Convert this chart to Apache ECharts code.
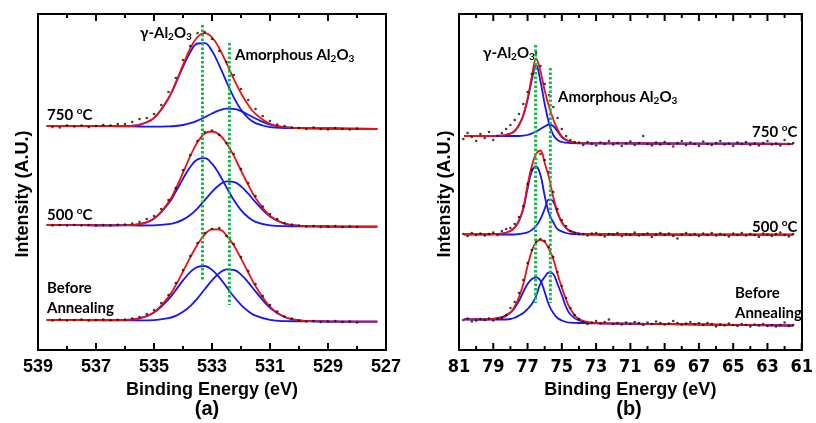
<!DOCTYPE html>
<html>
<head>
<meta charset="utf-8">
<script src="https://cdn.jsdelivr.net/npm/echarts@6/dist/echarts.min.js"></script>
<style>
  html, body { margin: 0; padding: 0; background: #fff; }
  #chart { width: 816px; height: 423px; }
</style>
</head>
<body>
<div id="chart"></div>
<script>
// ---------- panel (a): O 1s ----------
// every tick position, left to right; labelled ticks are every second one
const tickValsA = [539, 538, 537, 536, 535, 534, 533, 532, 531, 530, 529, 528, 527]

// energies where the fitted curves were read
const fitE_a = [538.7, 537.5, 536.5, 536, 535.5, 535, 534.5, 534.25, 534, 533.75, 533.5, 533.25,
  533, 532.75, 532.5, 532.25, 532, 531.75, 531.5, 531, 530.5, 530, 529, 527.3]

// 750 C
const a750Gamma = [224, 224, 223.8, 223.8, 225.3, 232.1, 251.6, 266.7, 283.2, 297.8, 306.5, 306.9,
  298.9, 284.7, 268.1, 252.6, 240.3, 231.9, 226.9, 222.9, 222, 221.8, 221.5, 221]
const a750Amor = [224, 224, 223.8, 223.6, 223.5, 223.4, 223.6, 224.0, 225.0, 226.8, 229.4, 232.8,
  236.5, 239.6, 241.4, 241.1, 238.9, 235.3, 231.5, 225.4, 222.8, 221.9, 221.5, 221]
const a750Fit = [224, 224, 223.8, 223.8, 225.3, 232.2, 252.0, 267.6, 285.2, 301.6, 313.0, 316.9,
  312.7, 301.7, 286.9, 271.2, 256.8, 244.9, 236.1, 226.2, 222.8, 221.9, 221.5, 221]
// 500 C
const a500Gamma = [125.0, 124.8, 124.7, 124.8, 125.9, 131.3, 146.5, 158.2, 171.3, 183.0, 190.6, 191.8,
  186.3, 175.7, 162.6, 150.1, 139.8, 132.7, 128.2, 124.6, 123.8, 123.7, 123.5, 123.3]
const a500Amor = [125.0, 124.8, 124.7, 124.6, 124.5, 124.6, 125.8, 127.4, 130.4, 135.0, 141.7, 149.8,
  158.1, 165.0, 168.6, 168.2, 163.6, 156.3, 147.8, 133.5, 126.4, 124.2, 123.5, 123.3]
const a500Fit = [125.0, 124.8, 124.7, 124.8, 125.9, 131.5, 147.9, 161.3, 177.4, 193.8, 208.1, 216.5,
  218.5, 215.5, 206.8, 194.3, 179.5, 165.1, 152.1, 134.3, 126.5, 124.2, 123.5, 123.3]
// before annealing
const aBAGamma = [30.0, 29.8, 29.8, 30.0, 31.6, 37.4, 50.7, 59.9, 69.6, 77.9, 83.1, 84.0,
  80.1, 72.7, 63.1, 53.5, 45.1, 38.7, 34.3, 30.1, 28.9, 28.7, 28.5, 28.3]
const aBAAmor = [30.0, 29.8, 29.7, 29.6, 29.6, 29.9, 31.9, 34.2, 38.2, 43.9, 51.7, 60.7,
  69.6, 76.9, 80.6, 80.2, 75.4, 67.7, 58.6, 42.2, 33.0, 29.7, 28.5, 28.3]
const aBAFit = [30.0, 29.8, 29.8, 30.0, 31.7, 37.9, 53.2, 64.8, 78.5, 92.6, 105.6, 115.5,
  120.6, 120.5, 114.7, 104.7, 91.6, 77.5, 64.0, 43.5, 33.2, 29.7, 28.5, 28.3]

// measured points, 538.5 -> 528.0 eV every 0.25 eV
const dotStartA = 538.5, dotStepA = 0.25
const a750Dots = [223, 222.5, 224.5, 223.5, 224.5, 223, 224, 225, 224.5, 226, 226, 228, 231, 232, 236,
  245, 258, 272, 290, 304, 317, 318, 311, 299, 288, 275, 261, 250, 241, 234, 229, 225.5, 224, 222.5,
  222, 221, 222.5, 221, 220.5, 222, 221, 220.5, 221.5]
const a500Dots = [124.5, 125, 124.5, 125, 124.5, 125, 124.5, 125, 124.8, 125.3, 125.5, 126.5, 128, 131,
  134, 141, 150, 162, 180, 195, 209, 218, 219.5, 215, 207, 196, 181, 167, 154, 143.5, 136, 131, 127,
  125.5, 124.5, 123.5, 124, 123, 123.5, 124, 123, 123.5, 123]
const aBADots = [29.5, 30.5, 29.5, 30, 30.5, 29.5, 30, 30.5, 29.8, 30.3, 30.5, 31.5, 33, 36, 40, 47, 55,
  67, 80, 94, 107, 117, 121, 122, 114, 106, 93, 79, 66, 54, 45, 38.5, 33.5, 31.5, 29.5, 28.5, 29, 28,
  28.5, 29, 28, 28.5, 27.5]

// dotted guide lines: energy and vertical extent
const guideE_a = [533.33, 532.40]
const guideY_a = [[325, 70], [307, 45]]

// ---------- panel (b): Al 2p ----------
const tickValsB = [81, 80, 79, 78, 77, 76, 75, 74, 73, 72, 71, 70, 69, 68, 67, 66, 65, 64, 63, 62, 61]

const fitE_b = [80.7, 79.5, 78.5, 78, 77.75, 77.5, 77.25, 77, 76.75, 76.5, 76.25, 76, 75.75, 75.5,
  75.25, 75, 74.75, 74.5, 74, 73, 70, 65, 61.5]

const b750Gamma = [214, 214, 214.3, 216.5, 219, 225, 234.5, 250, 270, 285, 269, 246, 227, 215, 210,
  208, 207.3, 206.9, 206.7, 206.6, 206.5, 206.3, 206.2]
const b750Amor = [214, 214, 214, 214, 214, 214, 214.3, 215, 216.5, 218.5, 221, 223.5, 225.5, 224,
  218.5, 213, 210, 208.3, 206.9, 206.6, 206.5, 206.3, 206.2]
const b750Fit = [214, 214, 214.3, 216.5, 219, 225, 234.8, 251.5, 273.5, 291.5, 279, 259.5, 243.5,
  230.8, 220.8, 213.7, 210.3, 208.4, 206.9, 206.6, 206.5, 206.3, 206.2]

const b500Gamma = [115.7, 115.6, 116.4, 119, 122.4, 129.2, 140.8, 161.2, 178.7, 183.5, 175.3, 154.3,
  136.6, 127.7, 120.9, 118.6, 117, 116.2, 115.7, 115.5, 115.5, 115.4, 115.3]
const b500Amor = [115.7, 115.6, 115.5, 115.5, 115.5, 116, 116.6, 117.6, 120.1, 124, 130.8, 141.1,
  150.3, 148.5, 136.8, 127.9, 122.2, 119.1, 116.4, 115.6, 115.5, 115.4, 115.3]
const b500Fit = [115.7, 115.6, 116.4, 119, 122.4, 129.7, 142, 165, 184, 196, 199.5, 187, 172.5, 153,
  138, 127.5, 122, 118.5, 116.4, 115.6, 115.5, 115.4, 115.3]

const bBAGamma = [30.7, 30.5, 33, 37.5, 42, 49, 58, 66, 71, 72.7, 69.5, 58, 45, 37, 32, 29.5, 28,
  27.3, 27, 26.6, 26.2, 25.2, 24.5]
const bBAAmor = [30.7, 30.5, 30.4, 31, 32.3, 34.5, 37, 41, 46, 54, 66.5, 73, 77.5, 76, 66, 55, 43,
  35.5, 29.5, 26.8, 26.2, 25.2, 24.5]
const bBAFit = [30.7, 30.6, 32, 37.5, 43.5, 53, 66, 84, 99, 108, 110, 108, 101, 91, 76, 62.5, 50.5,
  41, 31, 27, 26.2, 25.2, 24.5]

// measured points, 80.75 -> 61.5 eV every 0.25 eV
const dotStartB = 80.75, dotStepB = 0.25
const b750Dots = [211, 217, 213, 209, 216, 212, 218, 210, 214, 217, 221, 225, 230, 236, 246, 258, 276,
  297, 284, 266, 255, 243, 232, 221, 214, 210, 208, 207.5,
  205, 208, 206, 204.5, 207.5, 206, 209, 205.5, 207, 204, 206.5, 208.5, 205, 207, 214, 206, 204.5,
  207.5, 205.5, 208, 206, 203.5, 207, 209, 205, 207.5, 206, 204, 208.5, 206, 205, 207, 209, 205.5,
  206.5, 204, 207.5, 206, 208, 205, 206.5, 204.5, 207, 209, 205.5, 206.5, 204.5, 210, 206, 207]
const b500Dots = [116, 114, 117, 115, 116.5, 114.5, 116, 117.5, 115, 119, 121, 122, 126, 133, 144, 166,
  180, 191, 196, 190, 178, 158, 141, 130, 124, 119, 117, 116,
  116, 114.5, 116.5, 117, 115, 113.5, 116, 115.5, 117, 114, 116, 115, 117.5, 114.5, 115.5, 116.5, 113,
  115.5, 117, 115, 116.5, 114, 111.5, 115.5, 117, 115, 116, 114, 116.5, 115, 117, 114.5, 116, 115,
  113.5, 116.5, 115, 117, 114.5, 116, 115, 113, 116.5, 115.5, 114, 116, 117.5, 115, 113.5, 116]
const bBADots = [30, 31.5, 28.5, 29.5, 31, 30, 31.5, 29.5, 31, 32, 35, 42, 48, 57, 70, 87, 100, 108,
  111, 109, 103, 93, 78, 64, 52, 42, 35, 31,
  28, 26, 27.5, 29, 26.5, 28, 30.5, 26, 27, 25.5, 27.5, 26, 28, 27, 25, 27.5, 26, 28.5, 27, 25.5,
  26.5, 29, 27, 25.5, 26.5, 28, 26, 27, 25, 27, 26, 23.5, 25.5, 24.5, 26.5, 25, 24, 26, 25, 23.5,
  25.5, 24.5, 26, 24, 25, 23.5, 25, 27.5, 24, 25]

const guideE_b = [76.53, 75.67]
const guideY_b = [[305, 47], [282, 47]]

// ---------- styles ----------
const BLUE = '#1515f5'
const RED = '#f01010'
const GREEN = '#16b84a'
const NAVY = '#1f2f6e'
const AXIS_FONT = "'Liberation Sans', Arial, sans-serif"
const NARROW_FONT = "'Liberation Sans Narrow', 'DejaVu Sans Condensed', sans-serif"
const LABEL_FONT = "Lato, 'Open Sans', sans-serif"
const FRAME = { show: true, lineStyle: { color: '#000', width: 2 } }
const Y_MAX = 336

const zip = (xs, ys) => xs.map((x, i) => [x, ys[i]])
const dotPts = (start, step, ys) => ys.map((y, i) => [+(start - i * step).toFixed(2), y])

const chart = echarts.init(document.getElementById('chart'), null, { renderer: 'canvas' })

// hidden value axis for the data, category axes for frame and labels
function makeXAxes(gridIndex, ticks, labelFont) {
  const min = Math.min(...ticks), max = Math.max(...ticks)
  const cat = (position, withLabels) => ({
    type: 'category', gridIndex, position, boundaryGap: false,
    data: ticks.map(String),
    axisLine: FRAME,
    splitLine: { show: false },
    axisTick: { show: false },
    axisLabel: withLabels ? {
      interval: i => i % 2 === 0, margin: 8, fontSize: 18, fontWeight: 'bold',
      color: '#000', fontFamily: labelFont
    } : { show: false },
    ...(withLabels ? {
      name: 'Binding Energy (eV)', nameLocation: 'middle', nameGap: 29,
      nameTextStyle: { fontSize: 18, fontWeight: 'bold', color: '#000', fontFamily: AXIS_FONT }
    } : {})
  })
  return [
    { type: 'value', gridIndex, min, max, inverse: true, show: false },
    cat('bottom', true),
    cat('top', false)
  ]
}

function yAxis(gridIndex, position) {
  return {
    type: 'value', gridIndex, position, min: 0, max: Y_MAX,
    axisLine: FRAME, axisTick: { show: false },
    axisLabel: { show: false }, splitLine: { show: false }
  }
}

function spectrum(xIdx, yIdx, fitE, gamma, amor, fit, dots) {
  const line = (data, color) => ({
    type: 'line', xAxisIndex: xIdx, yAxisIndex: yIdx, data, smooth: 0.4,
    symbol: 'none', silent: true, z: color === RED ? 3 : 2,
    lineStyle: { color, width: 1.8 }
  })
  return [
    line(zip(fitE, gamma), BLUE),
    line(zip(fitE, amor), BLUE),
    line(zip(fitE, fit), RED),
    {
      type: 'scatter', xAxisIndex: xIdx, yAxisIndex: yIdx, data: dots,
      symbol: 'circle', symbolSize: 2.6, silent: true, z: 4,
      itemStyle: { color: '#111' }
    }
  ]
}

function guides(xIdx, yIdx, es, ys) {
  return es.map((e, i) => ({
    type: 'line', xAxisIndex: xIdx, yAxisIndex: yIdx, symbol: 'none', silent: true, z: 5,
    data: [[e, ys[i][0]], [e, ys[i][1]]],
    lineStyle: { color: GREEN, width: 3, type: [2.5, 2] }
  }))
}

const rich = {
  t: { fontSize: 15, fontWeight: 'bold', fontFamily: LABEL_FONT, color: NAVY, lineHeight: 18 },
  s: { fontSize: 10, fontWeight: 'bold', fontFamily: LABEL_FONT, color: NAVY, lineHeight: 10, verticalAlign: 'bottom' },
  u: { fontSize: 10, fontWeight: 'bold', fontFamily: LABEL_FONT, color: NAVY, lineHeight: 10, verticalAlign: 'top' }
}
const GAMMA_TXT = '{t|γ-Al}{s|2}{t|O}{s|3}'
const AMOR_TXT = '{t|Amorphous Al}{s|2}{t|O}{s|3}'
const temp = t => `{t|${t} }{u|o}{t|C}`

function label(x, y, text) {
  return { type: 'text', x, y, silent: true, z: 10, style: { text, rich, verticalAlign: 'middle' } }
}
function plain(x, y, text, size, rotation) {
  return {
    type: 'text', x, y, rotation: rotation || 0, silent: true, z: 10,
    style: {
      text, fill: '#000', font: `bold ${size}px ${AXIS_FONT}`,
      align: 'center', verticalAlign: 'middle'
    }
  }
}

const labels = [
  label(140, 33, GAMMA_TXT),
  label(235, 55, AMOR_TXT),
  label(47, 115, temp('750')),
  label(47, 215, temp('500')),
  label(47, 288, '{t|Before}'),
  label(47, 308, '{t|Annealing}'),
  label(483, 53, GAMMA_TXT),
  label(558, 97, AMOR_TXT),
  label(752, 132, temp('750')),
  label(752, 227, temp('500')),
  label(735, 293, '{t|Before}'),
  label(735, 313, '{t|Annealing}'),
  plain(23, 194, 'Intensity (A.U.)', 18, Math.PI / 2),
  plain(445, 194, 'Intensity (A.U.)', 18, Math.PI / 2),
  plain(207, 409, '(a)', 20),
  plain(629, 409, '(b)', 20)
]

const option = {
  animation: false,
  backgroundColor: '#fff',
  grid: [
    { left: 38, top: 14, width: 348, height: 336, show: false },
    { left: 459, top: 14, width: 348, height: 336, show: false }
  ],
  xAxis: [
    ...makeXAxes(0, tickValsA, AXIS_FONT),
    ...makeXAxes(1, tickValsB, NARROW_FONT)
  ],
  yAxis: [yAxis(0, 'left'), yAxis(0, 'right'), yAxis(1, 'left'), yAxis(1, 'right')],
  series: [
    ...spectrum(0, 0, fitE_a, a750Gamma, a750Amor, a750Fit, dotPts(dotStartA, dotStepA, a750Dots)),
    ...spectrum(0, 0, fitE_a, a500Gamma, a500Amor, a500Fit, dotPts(dotStartA, dotStepA, a500Dots)),
    ...spectrum(0, 0, fitE_a, aBAGamma, aBAAmor, aBAFit, dotPts(dotStartA, dotStepA, aBADots)),
    ...guides(0, 0, guideE_a, guideY_a),
    ...spectrum(3, 2, fitE_b, b750Gamma, b750Amor, b750Fit, dotPts(dotStartB, dotStepB, b750Dots)),
    ...spectrum(3, 2, fitE_b, b500Gamma, b500Amor, b500Fit, dotPts(dotStartB, dotStepB, b500Dots)),
    ...spectrum(3, 2, fitE_b, bBAGamma, bBAAmor, bBAFit, dotPts(dotStartB, dotStepB, bBADots)),
    ...guides(3, 2, guideE_b, guideY_b)
  ],
  graphic: labels
}

chart.setOption(option)

// inward ticks on the top and bottom edges, positioned through each panel's value axes
function tickMarks(xAxisIndex, yAxisIndex, ticks) {
  const yBottom = chart.convertToPixel({ yAxisIndex }, 0)
  const yTop = chart.convertToPixel({ yAxisIndex }, Y_MAX)
  const els = []
  ticks.forEach((v, i) => {
    const x = chart.convertToPixel({ xAxisIndex }, v)
    const len = i % 2 === 0 ? 7 : 4
    const style = { stroke: '#000', lineWidth: 2 }
    els.push(
      { type: 'line', silent: true, z: 20, shape: { x1: x, y1: yBottom, x2: x, y2: yBottom - len }, style },
      { type: 'line', silent: true, z: 20, shape: { x1: x, y1: yTop, x2: x, y2: yTop + len }, style }
    )
  })
  return els
}

chart.setOption({
  graphic: [
    ...labels,
    ...tickMarks(0, 0, tickValsA),
    ...tickMarks(3, 2, tickValsB)
  ]
})
</script>
</body>
</html>
